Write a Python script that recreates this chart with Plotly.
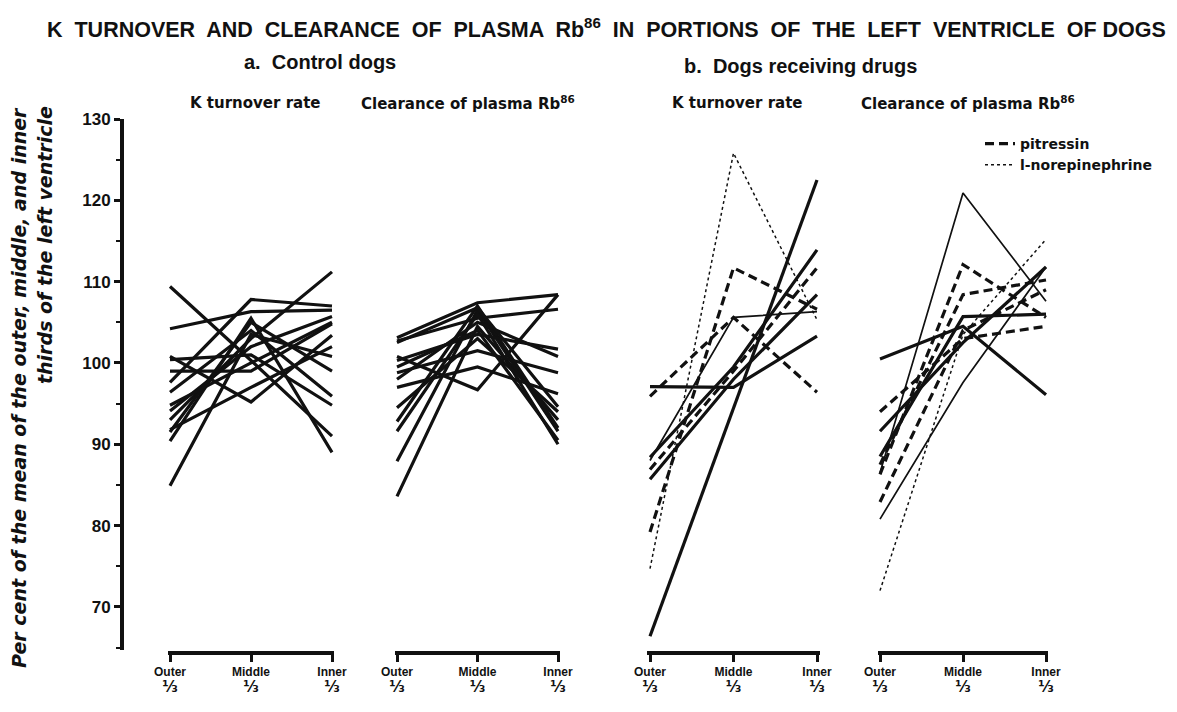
import plotly.graph_objects as go

# ---------------- data ----------------
positions = [0, 1, 2]
x_words = ["Outer", "Middle", "Inner"]
y_ticks = [70, 80, 90, 100, 110, 120, 130]

# a. Control dogs - K turnover rate (outer, middle, inner)
control_k = [
    [109.4, 100.3, 91.0],
    [104.2, 106.3, 106.5],
    [97.6, 107.8, 107.0],
    [93.0, 103.0, 111.2],
    [100.8, 95.2, 103.4],
    [84.9, 103.5, 100.8],
    [90.4, 105.5, 89.0],
    [100.4, 101.0, 94.8],
    [96.4, 104.0, 95.9],
    [94.1, 102.0, 105.7],
    [91.5, 105.0, 99.0],
    [99.0, 99.0, 104.8],
    [91.8, 97.0, 102.0],
    [94.8, 100.0, 105.0],
]

# a. Control dogs - clearance of plasma Rb86
control_rb = [
    [103.1, 107.4, 108.4],
    [102.7, 105.5, 106.6],
    [83.6, 104.5, 93.0],
    [87.9, 106.5, 91.6],
    [91.6, 106.0, 90.0],
    [92.8, 107.0, 92.0],
    [94.5, 103.0, 94.0],
    [100.8, 96.7, 108.4],
    [98.8, 101.5, 98.8],
    [100.3, 103.5, 101.7],
    [98.0, 105.0, 100.8],
    [97.0, 99.5, 96.2],
    [102.5, 106.8, 94.6],
    [99.5, 104.0, 90.5],
]

# b. Dogs receiving drugs - K turnover rate
drug_k = [
    [74.7, 125.8, 105.3],
    [66.4, 94.5, 122.5],
    [97.1, 97.0, 103.3],
    [95.9, 105.6, 96.4],
    [79.2, 111.7, 106.6],
    [88.4, 99.5, 113.9],
    [86.9, 99.0, 111.7],
    [85.7, 98.0, 108.4],
    [88.0, 105.6, 106.3],
]
drug_k_group = ["l-norepinephrine", "other", "other", "pitressin", "pitressin",
                "other", "pitressin", "other", "other thin"]

# b. Dogs receiving drugs - clearance of plasma Rb86
drug_rb = [
    [100.5, 104.5, 96.1],
    [86.5, 120.9, 107.6],
    [86.3, 112.1, 105.6],
    [87.5, 108.4, 110.2],
    [94.0, 103.0, 104.5],
    [82.9, 104.0, 109.0],
    [91.6, 102.5, 111.8],
    [72.0, 103.5, 115.2],
    [80.8, 97.6, 111.8],
    [88.5, 105.7, 106.0],
]
drug_rb_group = ["other", "other thin", "pitressin", "pitressin", "pitressin",
                 "pitressin", "other", "l-norepinephrine", "other thin", "other"]

panel_titles = ["K turnover rate", "Clearance of plasma Rb<sup>86</sup>",
                "K turnover rate", "Clearance of plasma Rb<sup>86</sup>"]
main_title = "K  TURNOVER  AND  CLEARANCE  OF  PLASMA  Rb<sup>86</sup>  IN  PORTIONS  OF  THE  LEFT  VENTRICLE  OF DOGS"
group_a = "a.  Control dogs"
group_b = "b.  Dogs receiving drugs"
y_title_1 = "Per cent of the mean of the outer, middle, and inner"
y_title_2 = "thirds of the left ventricle"
legend_names = ["pitressin", "l-norepinephrine"]

# ---------------- styling ----------------
OFF = 8                      # page body margin of the browser
W, H = 1177 - OFF, 712 - OFF
FONT = "Liberation Sans"
FONT2 = "DejaVu Sans"
INK = "#111111"


def fx(px):
    return (px - OFF) / W


def fy(py):
    return 1 - (py - OFF) / H


styles = {
    "control": dict(color=INK, width=3.2),
    "other": dict(color=INK, width=3.2),
    "other thin": dict(color=INK, width=1.7),
    "pitressin": dict(color=INK, width=3.2, dash="9px,5px"),
    "l-norepinephrine": dict(color=INK, width=1.5, dash="dot"),
}
x_labels = [f"<b>{w}</b><br><span style='font-family:DejaVu Sans;font-size:15px'><b>⅓</b></span>"
            for w in x_words]
# page-pixel positions of outer / inner thirds for each panel
panel_px = [(170, 332), (397, 558), (650, 817), (880, 1046)]
pad = 0.03
y_top_px, y_bot_px = 119, 650
y_range = [64.7, 130]
bracket_px = 653

fig = go.Figure()

panels = [
    (control_k, ["control"] * len(control_k)),
    (control_rb, ["control"] * len(control_rb)),
    (drug_k, drug_k_group),
    (drug_rb, drug_rb_group),
]
for i, (lines, groups) in enumerate(panels):
    xa = "x" if i == 0 else f"x{i + 1}"
    for vals, g in zip(lines, groups):
        fig.add_trace(go.Scatter(
            x=positions, y=vals, xaxis=xa, yaxis="y", mode="lines",
            line=styles[g], showlegend=False, hoverinfo="skip",
        ))

# legend entries
for name in legend_names:
    fig.add_trace(go.Scatter(x=[None], y=[None], mode="lines", name=f"<b>{name}</b>",
                             line=styles[name], showlegend=True, xaxis="x4", yaxis="y"))

layout = dict(
    width=W, height=H,
    margin=dict(l=0, r=0, t=0, b=0, autoexpand=False),
    paper_bgcolor="white", plot_bgcolor="white",
    font=dict(family=FONT, color=INK),
    yaxis=dict(
        domain=[fy(y_bot_px), fy(y_top_px)], range=y_range,
        anchor="free", position=fx(122), automargin=False,
        showline=True, linewidth=4, linecolor=INK,
        ticks="outside", ticklen=6, tickwidth=2.5, tickcolor=INK,
        tickvals=y_ticks, ticktext=[f"<b>{v}</b>" for v in y_ticks],
        tickfont=dict(family=FONT, size=17, color=INK),
        minor=dict(dtick=5, tick0=0, ticks="outside", ticklen=4, tickwidth=2, tickcolor=INK),
        showgrid=False, zeroline=False,
    ),
    legend=dict(x=fx(980), y=fy(128), xanchor="left", yanchor="top",
                font=dict(family=FONT2, size=14, color=INK), bgcolor="rgba(0,0,0,0)",
                itemwidth=30, tracegroupgap=0),
)
for i, (o, n) in enumerate(panel_px):
    u = (n - o) / 2
    key = "xaxis" if i == 0 else f"xaxis{i + 1}"
    layout[key] = dict(
        domain=[fx(o - pad * u), fx(n + pad * u)], range=[-pad, 2 + pad],
        anchor="free", position=fy(bracket_px), automargin=False,
        showline=True, linewidth=3.5, linecolor=INK,
        ticks="outside", ticklen=7, tickwidth=2.5, tickcolor=INK,
        tickvals=positions, ticktext=x_labels,
        tickfont=dict(family=FONT, size=12, color=INK),
        showgrid=False, zeroline=False,
    )
fig.update_layout(**layout)

ann = []


def add_text(text, xpx, ypx, size, family=FONT, xanchor="center", yanchor="middle", **kw):
    ann.append(dict(text=text, x=fx(xpx), y=fy(ypx), xref="paper", yref="paper",
                    xanchor=xanchor, yanchor=yanchor, showarrow=False,
                    font=dict(family=family, size=size, color=INK), **kw))


add_text(f"<b>{main_title}</b>", 606, 28, 21.5)
add_text(f"<b>{group_a}</b>", 320, 62, 20)
add_text(f"<b>{group_b}</b>", 800, 66, 20)
sub_x = [255, 468, 737, 968]
for t, xp in zip(panel_titles, sub_x):
    add_text(f"<b>{t}</b>", xp, 103, 15, family=FONT2)
add_text(f"<b><i>{y_title_1}</i></b>", 19, 388, 19, family=FONT2, textangle=-90)
add_text(f"<b><i>{y_title_2}</i></b>", 45, 104, 19, family=FONT2, textangle=-90, yanchor="top")
fig.update_layout(annotations=ann)

fig.write_html("out.html")
